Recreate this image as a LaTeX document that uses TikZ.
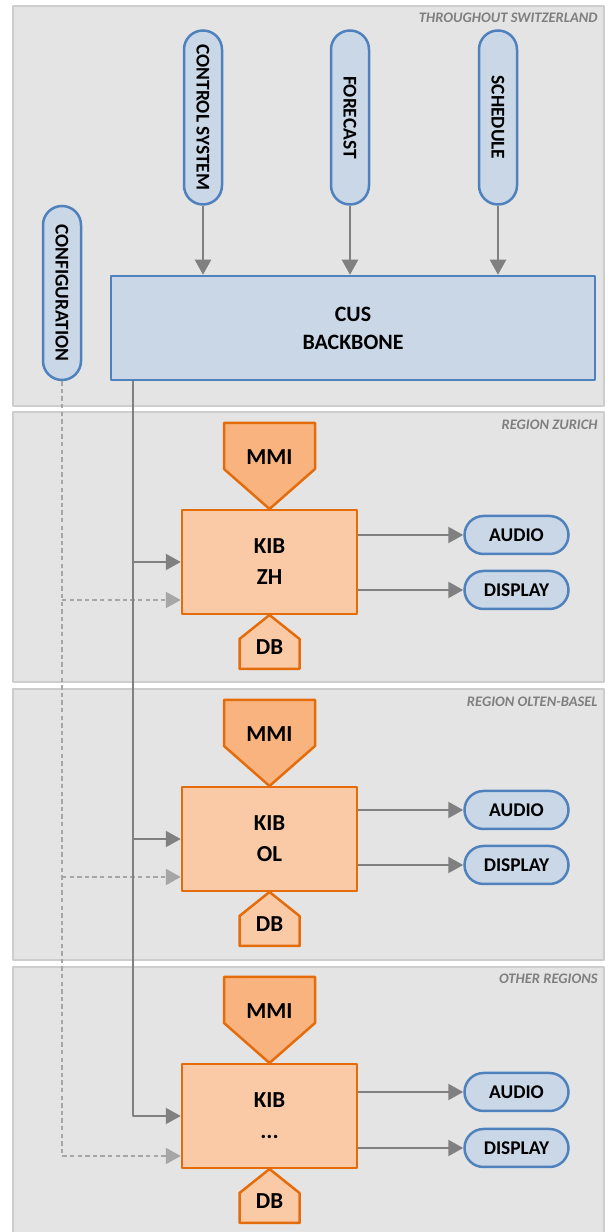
\documentclass[tikz,border=0pt]{standalone}
\usepackage{fontspec}
\setmainfont{Carlito}
\usetikzlibrary{arrows.meta}
\definecolor{panelfill}{HTML}{E4E4E4}
\definecolor{panelline}{HTML}{CDCDCD}
\definecolor{labelgray}{HTML}{7F7F7F}
\definecolor{pillfill}{HTML}{C9D7E7}
\definecolor{pillline}{HTML}{4F81BD}
\definecolor{kibfill}{HTML}{FACAA6}
\definecolor{mmifill}{HTML}{F8B37F}
\definecolor{kibline}{HTML}{E46C0A}
\definecolor{flowgray}{HTML}{808080}
\definecolor{cfggray}{HTML}{A6A6A6}
\begin{document}
\begin{tikzpicture}[>={Triangle[length=7.5bp,width=8bp]},line join=bevel,
    region/.style={draw=panelline,fill=panelfill,line width=0.75bp,rectangle,inner sep=0pt},
    regionlabel/.style={text=labelgray,anchor=east,inner sep=0pt,font=\fontsize{7.3}{8}\selectfont\bfseries\itshape},
    pill/.style={draw=pillline,fill=pillfill,line width=1.25bp,rectangle,rounded corners=9.5bp,minimum height=19bp,inner sep=0pt,font=\fontsize{9.75}{11}\selectfont\bfseries},
    vpill/.style={pill,rotate=-90,minimum width=87bp},
    hpill/.style={pill,minimum width=52bp},
    cusbox/.style={draw=pillline,fill=pillfill,line width=1.25bp,rectangle,minimum width=242bp,minimum height=52bp,align=center,font=\fontsize{11}{14}\selectfont\bfseries},
    kibbox/.style={draw=kibline,fill=kibfill,line width=1.25bp,rectangle,minimum width=87.5bp,minimum height=52bp,align=center,font=\fontsize{11.5}{15.5}\selectfont\bfseries},
    mmishape/.style={draw=kibline,fill=mmifill,line width=1.25bp},
    dbshape/.style={draw=kibline,fill=kibfill,line width=1.25bp},
    tag/.style={inner sep=0pt,font=\fontsize{11.5}{14}\selectfont\bfseries},
    flow/.style={draw=flowgray,line width=1.1bp},
    cfg/.style={draw=cfggray,line width=1.1bp,dash pattern=on 2.2bp off 1.6bp},
    ]
    \useasboundingbox (0bp,0bp) rectangle (305bp,616bp);
    %% regions
    \node (ch) at (154.25bp,513.0bp) [region,minimum width=295.5bp,minimum height=200bp] {};
    \node (zh) at (154.25bp,342.5bp) [region,minimum width=295.5bp,minimum height=135bp] {};
    \node (ol) at (154.25bp,203.75bp) [region,minimum width=295.5bp,minimum height=135.5bp] {};
    \node (ot) at (154.25bp,64.25bp) [region,minimum width=295.5bp,minimum height=136.5bp] {};
    \node (chlabel) at (299.0bp,607.0bp) [regionlabel] {THROUGHOUT SWITZERLAND};
    \node (zhlabel) at (299.0bp,403.5bp) [regionlabel] {REGION ZURICH};
    \node (ollabel) at (299.0bp,265.0bp) [regionlabel] {REGION OLTEN-BASEL};
    \node (otlabel) at (299.0bp,126.5bp) [regionlabel] {OTHER REGIONS};
    %% throughout switzerland
    \node (ctrl) at (101.5bp,557.25bp) [vpill] {CONTROL SYSTEM};
    \node (fcst) at (175.0bp,557.25bp) [vpill] {FORECAST};
    \node (sched) at (249.0bp,557.25bp) [vpill] {SCHEDULE};
    \node (config) at (31.0bp,469.5bp) [vpill] {CONFIGURATION};
    \node (cus) at (176.5bp,452.0bp) [cusbox] {CUS\\BACKBONE};
    %% kib boxes with mmi and db
    \draw [mmishape] (112.0bp,404.5bp) -- (157.5bp,404.5bp) -- (157.5bp,381.5bp) -- (134.75bp,361.5bp) -- (112.0bp,381.5bp) -- cycle;
    \draw [dbshape] (134.75bp,308.5bp) -- (149.75bp,296.5bp) -- (149.75bp,281.5bp) -- (119.75bp,281.5bp) -- (119.75bp,296.5bp) -- cycle;
    \node (mmizh) at (134.75bp,387.5bp) [tag] {MMI};
    \node (dbzh) at (134.75bp,292.5bp) [tag] {DB};
    \node (kibzh) at (134.75bp,335.0bp) [kibbox] {KIB\\ZH};
    \draw [mmishape] (112.0bp,266.0bp) -- (157.5bp,266.0bp) -- (157.5bp,243.0bp) -- (134.75bp,223.0bp) -- (112.0bp,243.0bp) -- cycle;
    \draw [dbshape] (134.75bp,170.0bp) -- (149.75bp,158.0bp) -- (149.75bp,143.0bp) -- (119.75bp,143.0bp) -- (119.75bp,158.0bp) -- cycle;
    \node (mmiol) at (134.75bp,249.0bp) [tag] {MMI};
    \node (dbol) at (134.75bp,154.0bp) [tag] {DB};
    \node (kibol) at (134.75bp,196.5bp) [kibbox] {KIB\\OL};
    \draw [mmishape] (112.0bp,127.5bp) -- (157.5bp,127.5bp) -- (157.5bp,104.5bp) -- (134.75bp,84.5bp) -- (112.0bp,104.5bp) -- cycle;
    \draw [dbshape] (134.75bp,31.5bp) -- (149.75bp,19.5bp) -- (149.75bp,4.5bp) -- (119.75bp,4.5bp) -- (119.75bp,19.5bp) -- cycle;
    \node (mmiot) at (134.75bp,110.5bp) [tag] {MMI};
    \node (dbot) at (134.75bp,15.5bp) [tag] {DB};
    \node (kibot) at (134.75bp,58.0bp) [kibbox] {KIB\\...};
    %% outputs
    \node (audiozh) at (258.25bp,348.5bp) [hpill] {AUDIO};
    \node (displayzh) at (258.25bp,321.0bp) [hpill] {DISPLAY};
    \node (audiool) at (258.25bp,211.0bp) [hpill] {AUDIO};
    \node (displayol) at (258.25bp,183.5bp) [hpill] {DISPLAY};
    \node (audioot) at (258.25bp,70.0bp) [hpill] {AUDIO};
    \node (displayot) at (258.25bp,42.0bp) [hpill] {DISPLAY};
    %% connectors
    \draw [flow,->] (ctrl) -- (ctrl |- cus.north);
    \draw [flow,->] (fcst) -- (fcst |- cus.north);
    \draw [flow,->] (sched) -- (sched |- cus.north);
    \coordinate (cfgzh) at ([yshift=-19bp]kibzh.west);
    \coordinate (cfgol) at ([yshift=-19bp]kibol.west);
    \coordinate (cfgot) at ([yshift=-20bp]kibot.west);
    \draw [cfg,->] (config) |- (cfgot);
    \draw [cfg,->] (config.center |- cfgzh) -- (cfgzh);
    \draw [cfg,->] (config.center |- cfgol) -- (cfgol);
    \coordinate (bb) at ([xshift=11.5bp]cus.south west);
    \draw [flow,->] (bb) |- (kibot);
    \draw [flow,->] (bb |- kibzh) -- (kibzh);
    \draw [flow,->] (bb |- kibol) -- (kibol);
    \draw [flow,->] (kibzh.east |- audiozh) -- (audiozh);
    \draw [flow,->] (kibzh.east |- displayzh) -- (displayzh);
    \draw [flow,->] (kibol.east |- audiool) -- (audiool);
    \draw [flow,->] (kibol.east |- displayol) -- (displayol);
    \draw [flow,->] (kibot.east |- audioot) -- (audioot);
    \draw [flow,->] (kibot.east |- displayot) -- (displayot);
    %
\end{tikzpicture}
\end{document}
